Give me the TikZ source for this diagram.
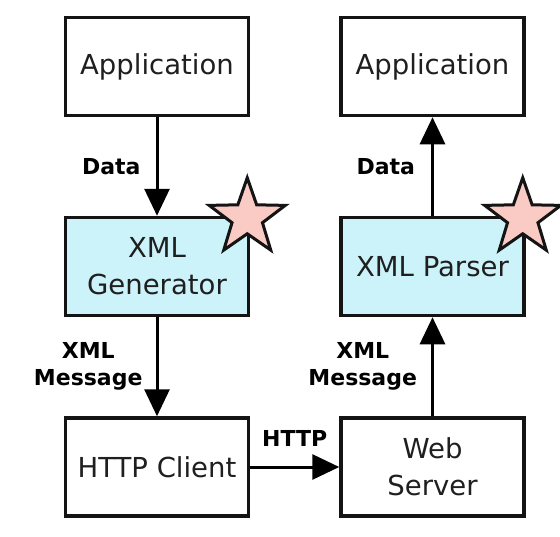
\documentclass[tikz,border=0pt]{standalone}
\usepackage{fontspec}
\setmainfont{DejaVu Sans}
\usetikzlibrary{arrows.meta, shapes.geometric}
\definecolor{xmlblue}{RGB}{204,242,250}
\definecolor{starpink}{RGB}{250,202,196}
\definecolor{boxline}{RGB}{20,20,20}
\tikzset{block/.style={
    draw=boxline, line width=3.5pt,
    minimum width=183pt, minimum height=98pt,
    align=center, text=black!88,
    font=\fontsize{27.5}{37}\selectfont
  },
  xmlblock/.style={block, fill=xmlblue},
  flow/.style={line width=3pt, -{Triangle[length=27pt, width=25pt]}},
  flowlabel/.style={inner sep=0pt, align=center,
    font=\fontsize{22}{27}\selectfont\bfseries},
  newstar/.style={star, star points=5, star point ratio=2.5,
    minimum size=80pt, inner sep=0pt,
    draw=boxline, line width=3pt, fill=starpink}
}

\begin{document}
\begin{tikzpicture}[x=1pt, y=-1pt]
      \useasboundingbox (0,0) rectangle (560,536);
      \node[block] (appl) at (157,66.5) {Application};
      \node[block] (appr) at (432.5,66.5) {Application};
      \node[xmlblock] (gen) at (157,266.5) {XML\\Generator};
      \node[xmlblock] (parser) at (432.5,266.5) {XML Parser};
      \node[block] (client) at (157,467) {HTTP Client};
      \node[block] (server) at (432.5,467) {Web\\Server};
      \draw[flow] (appl) -- node[flowlabel, left=15pt] (datal) {Data} (gen);
      \draw[flow] (gen) -- node[flowlabel, left=13pt] (msgl) {XML\\Message} (client);
      \draw[flow] (client) -- node[flowlabel, above=19pt] (httpl) {HTTP} (server);
      \draw[flow] (server) -- node[flowlabel, left=14pt] (msgr) {XML\\Message} (parser);
      \draw[flow] (parser) -- node[flowlabel, left=16pt] (datar) {Data} (appr);
      \node[newstar] (stargen) at ([xshift=-3pt, yshift=-2pt]gen.north east) {};
      \node[newstar] (starpar) at ([xshift=-3pt, yshift=-2pt]parser.north east) {};
    \end{tikzpicture}
\end{document}
